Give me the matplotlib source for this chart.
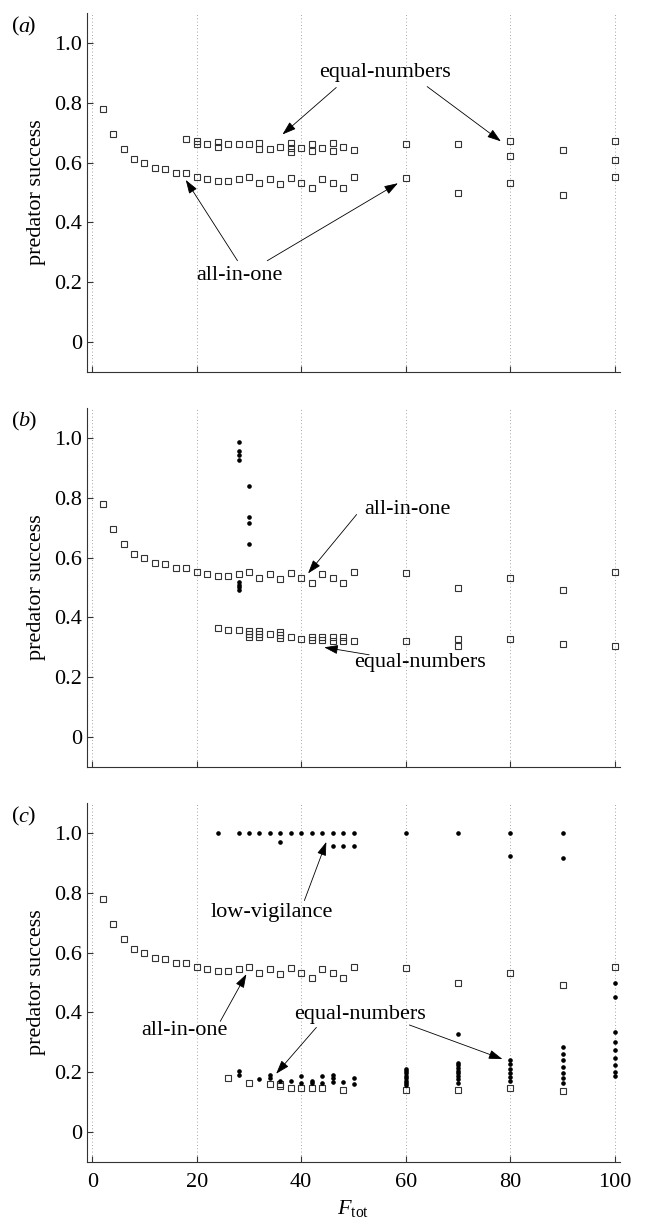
import matplotlib
matplotlib.use("Agg")
import matplotlib.pyplot as plt

plt.rcParams['font.family'] = ['Liberation Serif', 'DejaVu Serif']
plt.rcParams['mathtext.fontset'] = 'custom'
plt.rcParams['mathtext.rm'] = 'Liberation Serif'
plt.rcParams['mathtext.it'] = 'Liberation Serif:italic'

# ---------------- data ----------------
aio_x = [2, 4, 6, 8, 10, 12, 14, 16, 18, 20, 22, 24, 26, 28, 30, 32, 34, 36, 38, 40,
         42, 44, 46, 48, 50, 60, 70, 80, 90, 100]
aio_y = [0.778, 0.696, 0.646, 0.611, 0.600, 0.581, 0.577, 0.566, 0.566, 0.552, 0.546,
         0.540, 0.540, 0.546, 0.553, 0.532, 0.546, 0.527, 0.549, 0.533, 0.515, 0.546,
         0.531, 0.514, 0.552, 0.550, 0.499, 0.532, 0.490, 0.551]

# panel (a) equal-numbers
eqa_x = [18, 20, 20, 22, 24, 24, 26, 28, 30, 32, 32, 34, 36, 38, 38, 38, 40, 42, 42,
         44, 46, 46, 48, 50, 60, 70, 80, 80, 90, 100, 100]
eqa_y = [0.678, 0.672, 0.661, 0.661, 0.670, 0.651, 0.663, 0.661, 0.661, 0.667, 0.645,
         0.646, 0.652, 0.664, 0.648, 0.635, 0.649, 0.663, 0.638, 0.648, 0.667, 0.638,
         0.653, 0.643, 0.661, 0.661, 0.672, 0.623, 0.643, 0.672, 0.609]

# panel (b) equal-numbers
eqb_x = [24, 26, 28, 30, 30, 30, 32, 32, 32, 34, 36, 36, 36, 38, 40, 42, 42, 44, 44,
         46, 46, 48, 48, 50, 60, 70, 70, 80, 90, 100]
eqb_y = [0.366, 0.359, 0.358, 0.354, 0.344, 0.334, 0.354, 0.344, 0.334, 0.344, 0.351,
         0.341, 0.331, 0.333, 0.329, 0.336, 0.325, 0.336, 0.325, 0.333, 0.322, 0.333,
         0.322, 0.322, 0.320, 0.327, 0.304, 0.327, 0.311, 0.303]

# panel (b) dots
dotb_x = [28, 28, 28, 28, 28, 28, 28, 28, 30, 30, 30, 30]
dotb_y = [0.988, 0.955, 0.944, 0.927, 0.519, 0.510, 0.503, 0.490, 0.839, 0.737, 0.716, 0.645]

# panel (c) equal-numbers squares
eqc_x = [26, 30, 34, 36, 36, 38, 40, 42, 44, 48, 60, 70, 80, 90]
eqc_y = [0.181, 0.164, 0.162, 0.162, 0.153, 0.149, 0.148, 0.147, 0.147, 0.139,
         0.139, 0.139, 0.147, 0.137]

# panel (c) low-vigilance dots
lowv_x = [24, 28, 30, 32, 34, 36, 38, 40, 42, 44, 46, 48, 50, 60, 70, 80, 90,
          36, 46, 48, 50, 80, 90, 100, 100]
lowv_y = [1.0, 1.0, 1.0, 1.0, 1.0, 1.0, 1.0, 1.0, 1.0, 1.0, 1.0, 1.0, 1.0, 1.0, 1.0, 1.0, 1.0,
          0.968, 0.955, 0.955, 0.955, 0.924, 0.916, 0.500, 0.453]

# panel (c) equal-numbers dots
dotc_x = [28, 28, 32, 34, 34, 36, 38, 40, 40, 42, 42, 44, 44, 46, 46, 46, 48, 50, 50,
          60, 60, 60, 60, 60, 60, 60, 60,
          70, 70, 70, 70, 70, 70, 70, 70, 70,
          80, 80, 80, 80, 80, 80,
          90, 90, 90, 90, 90, 90, 90,
          100, 100, 100, 100, 100, 100, 100]
dotc_y = [0.203, 0.192, 0.176, 0.192, 0.182, 0.172, 0.170, 0.186, 0.163, 0.172, 0.163,
          0.186, 0.164, 0.192, 0.181, 0.168, 0.166, 0.180, 0.160,
          0.212, 0.204, 0.196, 0.188, 0.180, 0.172, 0.164, 0.156,
          0.327, 0.232, 0.223, 0.214, 0.205, 0.196, 0.187, 0.178, 0.164,
          0.240, 0.226, 0.212, 0.198, 0.184, 0.170,
          0.285, 0.261, 0.240, 0.218, 0.198, 0.182, 0.164,
          0.333, 0.302, 0.276, 0.246, 0.224, 0.201, 0.187]

yticks = [0, 0.2, 0.4, 0.6, 0.8, 1.0]
yticklabels = ['0', '0.2', '0.4', '0.6', '0.8', '1.0']
xticks = [0, 20, 40, 60, 80, 100]
xticklabels = ['0', '20', '40', '60', '80', '100']

# ---------------- figure ----------------
fig = plt.figure(figsize=(6.45, 12.24), dpi=100)
W, H = 645.0, 1224.0
left, right = 87 / W, 620 / W
tops = [13, 408, 803]
ph = 359
axes = []
for t in tops:
    ax = fig.add_axes([left, 1 - (t + ph) / H, right - left, ph / H])
    axes.append(ax)

FS = 16
sq = dict(linestyle='none', marker='s', markersize=5, markerfacecolor='none',
          markeredgecolor='#333333', markeredgewidth=0.8, zorder=3)
dot = dict(linestyle='none', marker='o', markersize=2.3, color='black', zorder=4)

for i, ax in enumerate(axes):
    ax.set_xlim(-1, 101)
    ax.set_ylim(-0.1, 1.1)
    for gx in xticks:
        ax.axvline(gx, color='#888888', linestyle=(0, (1, 3)), linewidth=0.6, zorder=1)
    ax.spines['top'].set_visible(False)
    ax.spines['right'].set_visible(False)
    ax.spines['left'].set_color('#333333')
    ax.spines['bottom'].set_color('#333333')
    ax.set_yticks(yticks)
    ax.set_yticklabels(yticklabels, fontsize=FS)
    ax.set_xticks(xticks)
    ax.tick_params(direction='in', length=4, width=0.8, color='#333333')
    if i < 2:
        ax.set_xticklabels([])
    else:
        ax.set_xticklabels(xticklabels, fontsize=FS)
        ax.tick_params(axis='x', pad=8)
    ax.set_ylabel('predator success', fontsize=FS, labelpad=6)
    ax.plot(aio_x, aio_y, **sq)

lab = ['a', 'b', 'c']
for i, t in enumerate(tops):
    fig.text(12 / W, 1 - (t + 14) / H, '(', fontsize=FS, va='center', ha='left')
    fig.text(18 / W, 1 - (t + 14) / H, lab[i], fontsize=FS, style='italic', va='center', ha='left')
    fig.text((27 if i != 1 else 28) / W, 1 - (t + 14) / H, ')', fontsize=FS, va='center', ha='left')

arr = dict(arrowstyle='-|>,head_length=0.6,head_width=0.2', color='black', lw=0.6,
           mutation_scale=14, shrinkA=0, shrinkB=0)

# panel (a)
ax = axes[0]
ax.plot(eqa_x, eqa_y, **sq)
ax.text(56, 0.900, 'equal-numbers', fontsize=FS, ha='center', va='center')
ax.annotate('', xy=(36.4, 0.694), xytext=(46.7, 0.851), arrowprops=arr)
ax.annotate('', xy=(78.2, 0.671), xytext=(64.1, 0.854), arrowprops=arr)
ax.text(28.2, 0.222, 'all-in-one', fontsize=FS, ha='center', va='center')
ax.annotate('', xy=(17.9, 0.542), xytext=(27.8, 0.272), arrowprops=arr)
ax.annotate('', xy=(58.5, 0.531), xytext=(33.5, 0.272), arrowprops=arr)

# panel (b)
ax = axes[1]
ax.plot(eqb_x, eqb_y, **sq)
ax.plot(dotb_x, dotb_y, **dot)
ax.text(60.3, 0.762, 'all-in-one', fontsize=FS, ha='center', va='center')
ax.annotate('', xy=(41.3, 0.547), xytext=(50.6, 0.744), arrowprops=arr)
ax.text(62.7, 0.250, 'equal-numbers', fontsize=FS, ha='center', va='center')
ax.annotate('', xy=(44.4, 0.300), xytext=(53.0, 0.275), arrowprops=arr)

# panel (c)
ax = axes[2]
ax.plot(eqc_x, eqc_y, **sq)
ax.plot(lowv_x, lowv_y, **dot)
ax.plot(dotc_x, dotc_y, **dot)
ax.text(34.3, 0.734, 'low-vigilance', fontsize=FS, ha='center', va='center')
ax.annotate('', xy=(44.8, 0.970), xytext=(40.6, 0.774), arrowprops=arr)
ax.text(17.7, 0.339, 'all-in-one', fontsize=FS, ha='center', va='center')
ax.annotate('', xy=(29.5, 0.528), xytext=(24.5, 0.370), arrowprops=arr)
ax.text(51.2, 0.393, 'equal-numbers', fontsize=FS, ha='center', va='center')
ax.annotate('', xy=(35.2, 0.195), xytext=(42.9, 0.350), arrowprops=arr)
ax.annotate('', xy=(78.5, 0.244), xytext=(60.7, 0.358), arrowprops=arr)
ax.set_xlabel(r'$F_{\rm tot}$', fontsize=FS, labelpad=4)

fig.savefig('out.png', dpi=100)
